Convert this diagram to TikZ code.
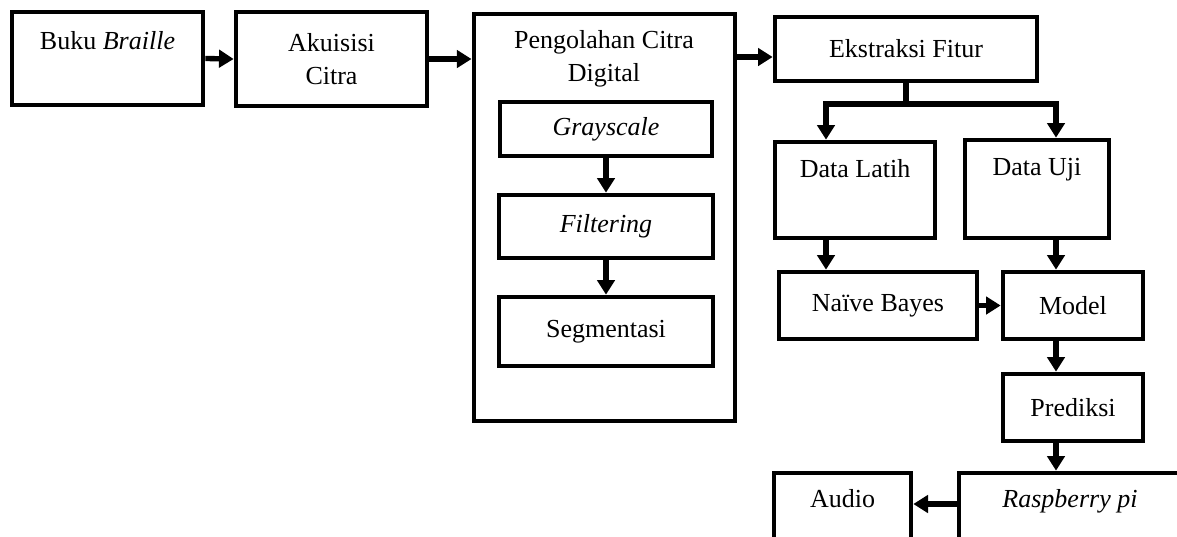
\documentclass[tikz,border=0pt]{standalone}
\usepackage{fontspec}
\setmainfont{Liberation Serif}
\usetikzlibrary{arrows.meta}

\begin{document}
\begin{tikzpicture}[x=0.75pt,y=-0.75pt,
  font=\fontsize{19.5}{25}\selectfont,
  box/.style 2 args={draw, line width=3.5pt, minimum width=#1*0.75pt, minimum height=#2*0.75pt, inner sep=0pt, align=center},
  intext/.style={anchor=base, inner sep=0pt, yshift=-#1},
  arr/.style={draw, line width=4pt, -{Triangle[length=11pt,width=13pt]}},
  link/.style={draw, line width=4pt}]
\useasboundingbox (0,0) rectangle (1177,536);
\clip (0,0) rectangle (1177,536);

\node[box={191}{93}, label={[intext=30pt]north:Buku \textit{Braille}}] (buku) at (107.5,58.5) {};
\node[box={191}{94}] (akuisisi) at (331.5,59) {Akuisisi\\Citra};
\node[box={261}{407}, line width=3pt, label={[anchor=north, inner sep=0pt, yshift=-13.7pt, align=center]north:Pengolahan Citra\\Digital}] (pengolahan) at (604,217) {};
\node[box={212}{54}] (grayscale) at (606,129) {\textit{Grayscale}};
\node[box={214}{63}] (filtering) at (606,226.5) {\textit{Filtering}};
\node[box={214}{69}] (segmentasi) at (606,331.5) {Segmentasi};
\node[box={262}{64}] (ekstraksi) at (906,49) {Ekstraksi Fitur};
\node[box={160}{96}, label={[intext=28.5pt]north:Data Latih}] (datalatih) at (855,190) {};
\node[box={144}{98}, label={[intext=28.5pt]north:Data Uji}] (datauji) at (1037,189) {};
\node[box={198}{67}] (naive) at (878,305.5) {Naïve Bayes};
\node[box={140}{67}] (model) at (1073,305.5) {Model};
\node[box={140}{67}] (prediksi) at (1073,407.5) {Prediksi};
\node[box={222}{94}, label={[intext=27.75pt]north:\textit{Raspberry pi}}] (raspberry) at (1070,520) {};
\node[box={137}{94}, label={[intext=27.75pt]north:Audio}] (audio) at (842.5,520) {};

\coordinate (split) at (906,104);
\coordinate (latihcol) at (826,0);
\coordinate (ujicol) at (1056,0);
\coordinate (ekstraksiy) at (0,57);
\coordinate (rpy) at (0,504);

\path[arr] (buku.east) -- (akuisisi.west);
\path[arr] (akuisisi.east) -- (akuisisi.east -| pengolahan.west);
\path[arr] (pengolahan.east |- ekstraksiy) -- (ekstraksi.west |- ekstraksiy);
\path[arr] (grayscale.south) -- (filtering.north);
\path[arr] (filtering.south) -- (segmentasi.north);
\path[link] (ekstraksi.south) -- (split);
\path[arr] (split) -| (datalatih.north -| latihcol);
\path[arr] (split) -| (datauji.north -| ujicol);
\path[arr] (datalatih.south -| latihcol) -- (naive.north -| latihcol);
\path[arr] (datauji.south -| ujicol) -- (model.north -| ujicol);
\path[arr] (naive.east) -- (model.west);
\path[arr] (model.south -| ujicol) -- (prediksi.north -| ujicol);
\path[arr] (prediksi.south -| ujicol) -- (raspberry.north -| ujicol);
\path[arr] (raspberry.west |- rpy) -- (audio.east |- rpy);
\end{tikzpicture}
\end{document}
